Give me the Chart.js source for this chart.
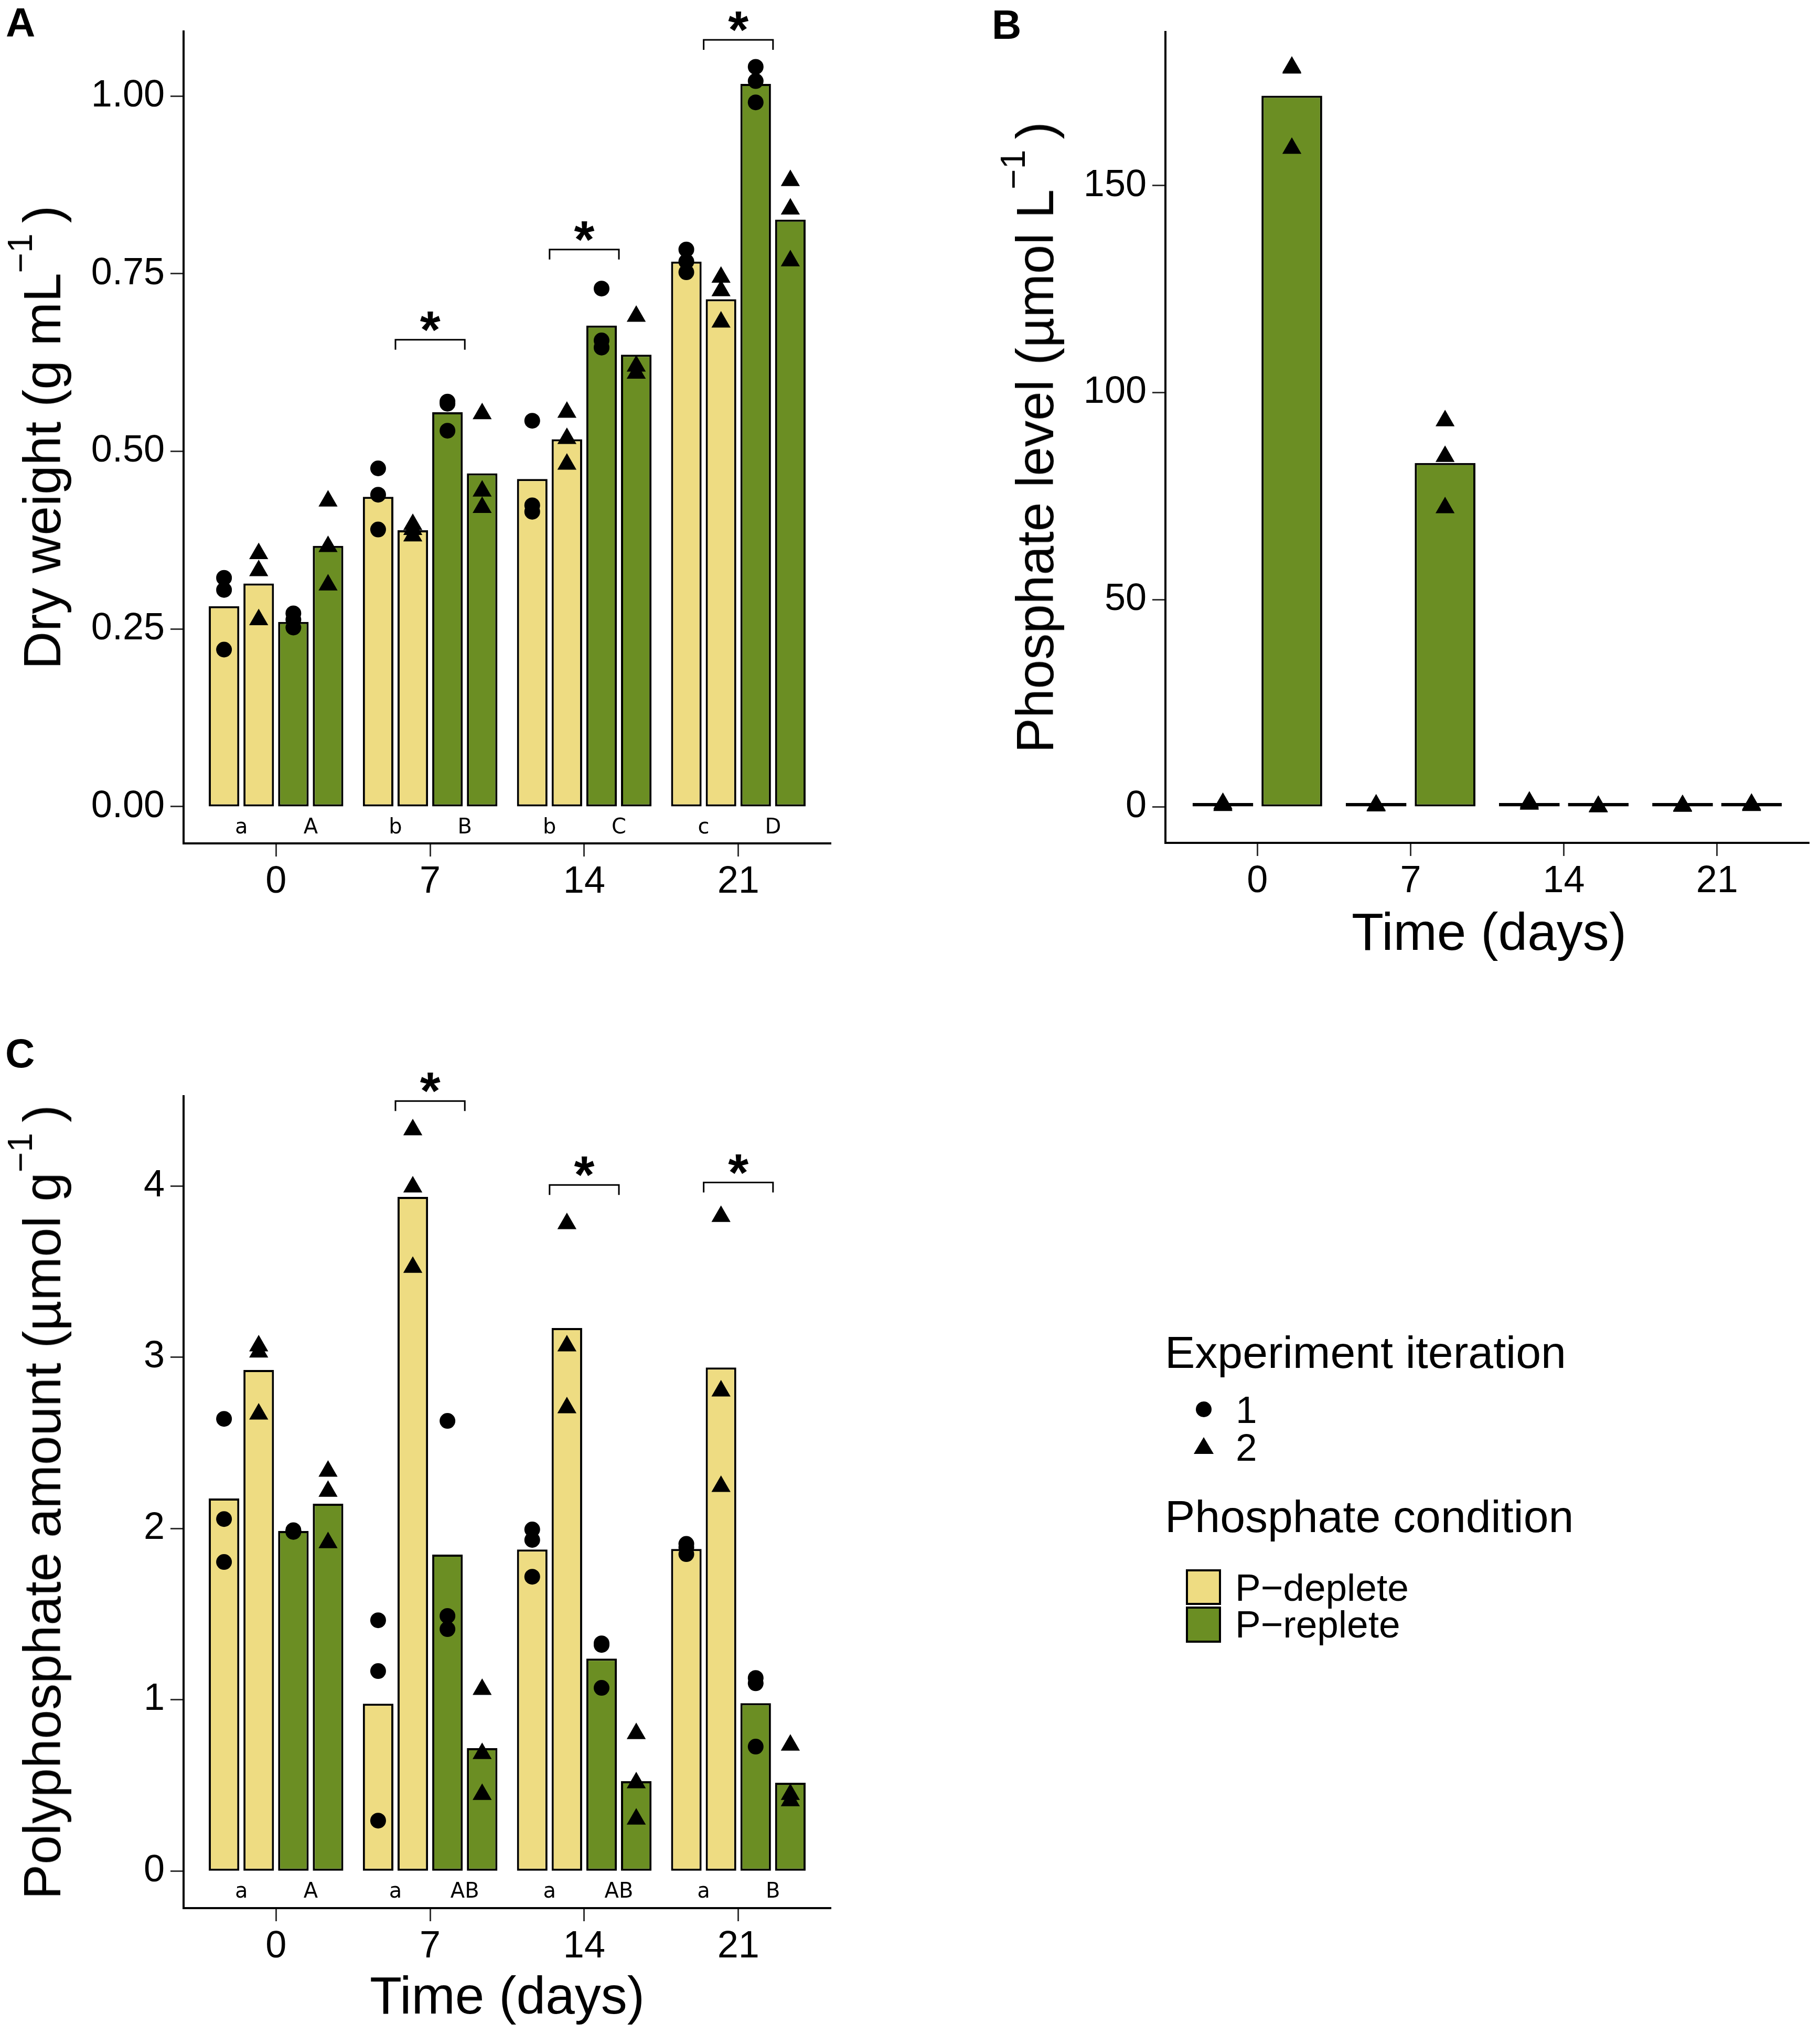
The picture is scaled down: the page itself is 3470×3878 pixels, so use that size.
<!DOCTYPE html>
<html lang="en">
<head>
<meta charset="UTF-8">
<title>Dry weight, phosphate level and polyphosphate amount</title>
<script src="https://cdn.jsdelivr.net/npm/chart.js"></script>
<style>
  body { margin: 0; background: #fff; font-family: "Liberation Sans", Arial, sans-serif; color: #000; }
  #page { position: relative; width: 3470px; height: 3878px; overflow: hidden; }
  canvas, .txt, .sym { position: absolute; }
  .txt { white-space: nowrap; line-height: 1; }
  .tag { font-weight: bold; font-size: 78px; }
  .ytitle { font-size: 100px; transform: translate(-50%, -50%) rotate(-90deg); }
  .xtitle { font-size: 100px; transform: translateX(-50%); }
  .sup { font-size: 0.66em; position: relative; top: -0.82em; }
  .leghead { font-size: 86px; }
  .legitem { font-size: 73px; }
</style>
</head>
<body>
<div id="page">
  <canvas id="chartA" width="1700" height="1758" style="left:0;top:0"></canvas>
  <canvas id="chartB" width="1598" height="1758" style="left:1872px;top:0"></canvas>
  <canvas id="chartC" width="1700" height="1978" style="left:0;top:1900px"></canvas>

  <div class="txt tag" style="left:11px;top:4px">A</div>
  <div class="txt tag" style="left:1891px;top:8px">B</div>
  <div class="txt tag" style="left:10px;top:1969px">C</div>

  <div class="txt ytitle" style="left:80px;top:834px">Dry weight (g mL<span class="sup">−1</span>&thinsp;)</div>
  <div class="txt ytitle" style="left:1973px;top:834px">Phosphate level (µmol L<span class="sup">−1</span>&thinsp;)</div>
  <div class="txt ytitle" style="left:80px;top:2864px">Polyphosphate amount (µmol g<span class="sup">−1</span>&thinsp;)</div>
  <div class="txt xtitle" style="left:2839px;top:1726px">Time (days)</div>
  <div class="txt xtitle" style="left:967px;top:3754px">Time (days)</div>

  <!-- legend -->
  <div class="txt leghead" style="left:2221px;top:2535px">Experiment iteration</div>
  <div class="sym" style="left:2280px;top:2672px;width:30px;height:30px;border-radius:50%;background:#000"></div>
  <div class="txt legitem" style="left:2356px;top:2651px">1</div>
  <div class="sym" style="left:2276px;top:2740px;width:0;height:0;border-left:19px solid transparent;border-right:19px solid transparent;border-bottom:32px solid #000"></div>
  <div class="txt legitem" style="left:2356px;top:2723px">2</div>
  <div class="txt leghead" style="left:2221px;top:2848px">Phosphate condition</div>
  <div class="sym" style="left:2261px;top:2992px;width:67px;height:68px;box-sizing:border-box;border:4px solid #000;background:#EEDC82"></div>
  <div class="sym" style="left:2261px;top:3063px;width:67px;height:69px;box-sizing:border-box;border:4px solid #000;background:#6B8E23"></div>
  <div class="txt legitem" style="left:2355px;top:2990px">P−deplete</div>
  <div class="txt legitem" style="left:2355px;top:3060px">P−replete</div>
</div>

<script>
// time points (days) and their group index on the x axis
const days = ['0', '7', '14', '21'];
const groups = [0, 1, 2, 3];

// A: dry weight (g mL-1), bar heights per condition / iteration
const dryDep1 = [0.282, 0.436, 0.461, 0.767];
const dryDep2 = [0.314, 0.389, 0.517, 0.714];
const dryRep1 = [0.260, 0.555, 0.677, 1.017];
const dryRep2 = [0.367, 0.469, 0.636, 0.826];
// A: replicate points
const dryDep1Pts = [[0.322, 0.305, 0.221], [0.476, 0.439, 0.390], [0.543, 0.424, 0.415], [0.784, 0.767, 0.752]];
const dryDep2Pts = [[0.356, 0.332, 0.263], [0.397, 0.390, 0.381], [0.555, 0.518, 0.482], [0.745, 0.726, 0.682]];
const dryRep1Pts = [[0.272, 0.263, 0.252], [0.567, 0.570, 0.529], [0.729, 0.656, 0.646], [1.041, 1.021, 0.991]];
const dryRep2Pts = [[0.430, 0.366, 0.312], [0.553, 0.444, 0.421], [0.690, 0.620, 0.610], [0.881, 0.841, 0.768]];
const dryLettersDep = ['a', 'b', 'b', 'c'];
const dryLettersRep = ['A', 'B', 'C', 'D'];
const drySig = [null, 0.657, 0.784, 1.079];
const dryTicks = [0, 0.25, 0.5, 0.75, 1.0];

// B: phosphate level in medium (umol L-1), iteration 2 only
const phoDep = [0.5, 0.3, 0.8, 0.2];
const phoRep = [171.7, 83.0, 0.05, 0.4];
const phoDepPts = [[0.8, 0.5, 0.3], [0.4, 0.3, 0.2], [1.1, 0.8, 0.6], [0.3, 0.2, 0.1]];
const phoRepPts = [[178.6, 178.4, 159.0], [93.2, 84.6, 72.2], [0.1, 0.0, 0.0], [0.6, 0.4, 0.3]];
const phoTicks = [0, 50, 100, 150];

// C: polyphosphate amount (umol g-1)
const polyDep1 = [2.175, 0.977, 1.877, 1.880];
const polyDep2 = [2.925, 3.936, 3.170, 2.940];
const polyRep1 = [1.985, 1.847, 1.240, 0.980];
const polyRep2 = [2.144, 0.717, 0.524, 0.515];
const polyDep1Pts = [[2.640, 2.055, 1.804], [1.464, 1.167, 0.294], [1.994, 1.933, 1.718], [1.910, 1.890, 1.850]];
const polyDep2Pts = [[3.066, 3.030, 2.668], [4.328, 3.994, 3.525], [3.780, 3.066, 2.705], [3.822, 2.803, 2.245]];
const polyRep1Pts = [[1.990, 1.985, 1.980], [2.628, 1.489, 1.412], [1.329, 1.320, 1.069], [1.127, 1.096, 0.726]];
const polyRep2Pts = [[2.334, 2.217, 1.917], [1.060, 0.686, 0.447], [0.802, 0.515, 0.303], [0.735, 0.447, 0.410]];
const polyLettersDep = ['a', 'a', 'a', 'a'];
const polyLettersRep = ['A', 'AB', 'AB', 'B'];
const polySig = [null, 4.496, 4.006, 4.020];
const polyTicks = [0, 1, 2, 3, 4];

// dodge offsets within a time group
const DODGE4 = [-0.3375, -0.1125, 0.1125, 0.3375];
const DODGE2 = [-0.225, 0.225];
const DEP = '#EEDC82', REP = '#6B8E23';

Chart.defaults.font.family = '"Liberation Sans", Arial, sans-serif';

function barSet(values, off, fill) {
  return {
    type: 'bar',
    data: values.map((v, i) => ({ x: groups[i] + off, y: v })),
    backgroundColor: fill, borderColor: '#000', borderWidth: 4,
    borderSkipped: false, grouped: false,
    categoryPercentage: 1, barPercentage: 0.88, minBarLength: 7,
    order: 2
  };
}

function pointSet(lists, offs, style, radius) {
  const data = [];
  lists.forEach((pts, k) => pts.forEach((vals, i) =>
    vals.forEach(v => data.push({ x: groups[i] + offs[k], y: v }))));
  return {
    type: 'scatter', data, pointStyle: style, pointRadius: radius,
    backgroundColor: '#000', borderColor: '#000', borderWidth: 0, order: 1
  };
}

// compact letters under the bars, brackets and stars above
function annotate(lettersDep, lettersRep, sig) {
  return {
    id: 'annotate',
    afterDatasetsDraw(chart) {
      const { ctx, scales: { x, y } } = chart;
      const y0 = y.getPixelForValue(0);
      ctx.save();
      ctx.fillStyle = '#000';
      ctx.strokeStyle = '#000';
      ctx.textAlign = 'center';
      ctx.textBaseline = 'alphabetic';
      groups.forEach(g => {
        const xl = x.getPixelForValue(g + DODGE2[0]);
        const xr = x.getPixelForValue(g + DODGE2[1]);
        ctx.font = '40px "DejaVu Sans"';
        ctx.fillText(lettersDep[g], xl, y0 + 51);
        ctx.fillText(lettersRep[g], xr, y0 + 51);
        if (sig[g] == null) return;
        const yb = y.getPixelForValue(sig[g]);
        ctx.beginPath();
        ctx.moveTo(xl, yb + 19);
        ctx.lineTo(xl, yb);
        ctx.lineTo(xr, yb);
        ctx.lineTo(xr, yb + 19);
        ctx.lineWidth = 3;
        ctx.stroke();
        ctx.font = 'bold 100px "Liberation Sans"';
        ctx.fillText('*', (xl + xr) / 2, yb - 43 + 58);
      });
      ctx.restore();
    }
  };
}

function axisGrid() {
  return { drawOnChartArea: false, drawTicks: true, offset: false, tickLength: 25, tickColor: '#333', tickWidth: 3 };
}

function makeChart(id, datasets, o) {
  return new Chart(document.getElementById(id), {
    type: 'bar',
    data: { datasets },
    options: {
      responsive: false, animation: false, devicePixelRatio: 1,
      layout: { padding: o.padding },
      plugins: { legend: { display: false }, tooltip: { enabled: false } },
      scales: {
        x: {
          type: 'linear', min: -0.6, max: 3.6, offset: false,
          afterBuildTicks: s => { s.ticks = groups.map(v => ({ value: v })); },
          afterFit: s => { s.height = o.xh; },
          ticks: { callback: v => days[v], font: { size: 72 }, color: '#000', padding: 6, maxRotation: 0, autoSkip: false },
          grid: axisGrid(),
          border: { display: true, color: '#000', width: 4 }
        },
        y: {
          type: 'linear', min: o.ymin, max: o.ymax,
          afterBuildTicks: s => { s.ticks = o.yticks.map(v => ({ value: v })); },
          afterFit: s => { s.width = 350; },
          ticks: { callback: o.fmt, font: { size: 72 }, color: '#000', padding: 11, autoSkip: false },
          grid: axisGrid(),
          border: { display: true, color: '#000', width: 4 }
        }
      }
    },
    plugins: o.plugins || []
  });
}

makeChart('chartA', [
  pointSet([dryDep1Pts, dryRep1Pts], [DODGE4[0], DODGE4[2]], 'circle', 15),
  pointSet([dryDep2Pts, dryRep2Pts], [DODGE4[1], DODGE4[3]], 'triangle', 21),
  barSet(dryDep1, DODGE4[0], DEP),
  barSet(dryDep2, DODGE4[1], DEP),
  barSet(dryRep1, DODGE4[2], REP),
  barSet(dryRep2, DODGE4[3], REP)
], {
  padding: { left: 0, top: 60, right: 116, bottom: 0 }, xh: 150,
  ymin: -0.0517, ymax: 1.0908, yticks: dryTicks, fmt: v => v.toFixed(2),
  plugins: [annotate(dryLettersDep, dryLettersRep, drySig)]
});

makeChart('chartB', [
  pointSet([phoDepPts, phoRepPts], DODGE2, 'triangle', 21),
  barSet(phoDep, DODGE2[0], DEP),
  barSet(phoRep, DODGE2[1], REP)
], {
  padding: { left: 0, top: 61, right: 14, bottom: 0 }, xh: 151,
  ymin: -8.74, ymax: 187.1, yticks: phoTicks, fmt: v => String(v)
});

makeChart('chartC', [
  pointSet([polyDep1Pts, polyRep1Pts], [DODGE4[0], DODGE4[2]], 'circle', 15),
  pointSet([polyDep2Pts, polyRep2Pts], [DODGE4[1], DODGE4[3]], 'triangle', 21),
  barSet(polyDep1, DODGE4[0], DEP),
  barSet(polyDep2, DODGE4[1], DEP),
  barSet(polyRep1, DODGE4[2], REP),
  barSet(polyRep2, DODGE4[3], REP)
], {
  padding: { left: 0, top: 190, right: 116, bottom: 0 }, xh: 240,
  ymin: -0.217, ymax: 4.524, yticks: polyTicks, fmt: v => String(v),
  plugins: [annotate(polyLettersDep, polyLettersRep, polySig)]
});
</script>
</body>
</html>
